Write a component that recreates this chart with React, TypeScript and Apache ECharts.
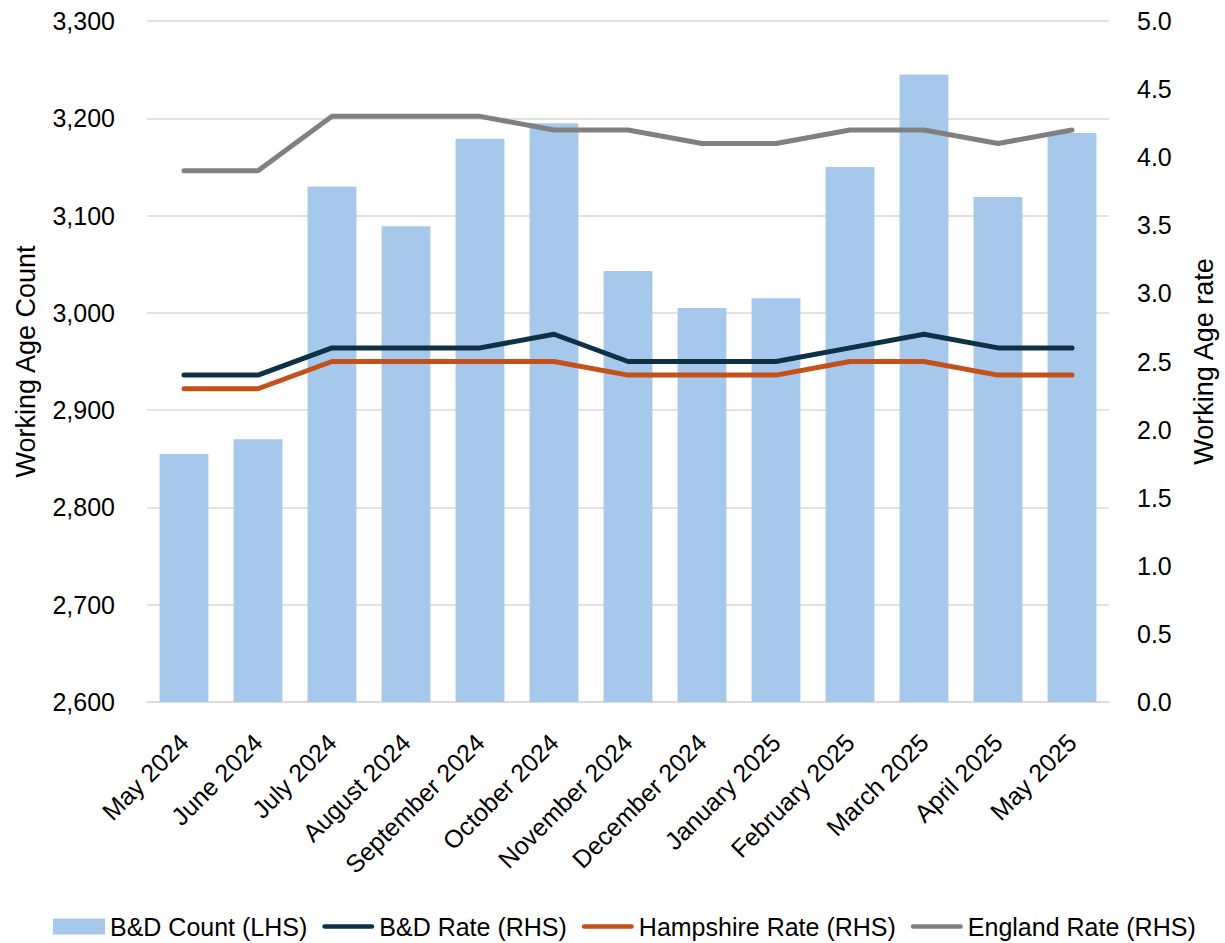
import React, { useEffect, useRef } from "react";
import * as echarts from "echarts";

const categories = [
  "May 2024", "June 2024", "July 2024", "August 2024", "September 2024", "October 2024",
  "November 2024", "December 2024", "January 2025", "February 2025", "March 2025", "April 2025", "May 2025",
];
const bdCount = [2855, 2870, 3130, 3089, 3179, 3195, 3043, 3005, 3015, 3150, 3245, 3119, 3185];
const bdRate = [2.4, 2.4, 2.6, 2.6, 2.6, 2.7, 2.5, 2.5, 2.5, 2.6, 2.7, 2.6, 2.6];
const hampshireRate = [2.3, 2.3, 2.5, 2.5, 2.5, 2.5, 2.4, 2.4, 2.4, 2.5, 2.5, 2.4, 2.4];
const englandRate = [3.9, 3.9, 4.3, 4.3, 4.3, 4.2, 4.2, 4.1, 4.1, 4.2, 4.2, 4.1, 4.2];

const FONT = "'Liberation Sans', Arial, sans-serif";
const TXT = "#000000";
const LINE_ICON = "path://M2.5,0 H52.5 A2.5,2.5 0 0 1 52.5,5 H2.5 A2.5,2.5 0 0 1 2.5,0 Z";

export default function App() {
  const ref = useRef<HTMLDivElement>(null);
  useEffect(() => {
    document.body.style.margin = "0";
    const chart = echarts.init(ref.current!, null, { renderer: "svg" });
    const lineSeries = (name: string, data: number[], color: string) => ({
      name,
      type: "line",
      yAxisIndex: 1,
      data,
      symbol: "none",
      lineStyle: { color, width: 5, cap: "round", join: "round" },
      itemStyle: { color },
      z: 3,
    });
    chart.setOption({
      animation: false,
      backgroundColor: "#ffffff",
      textStyle: { fontFamily: FONT },
      grid: { left: 147, right: 108, top: 21, bottom: 241, containLabel: false },
      legend: {
        bottom: -1,
        left: 48,
        itemWidth: 52,
        itemHeight: 16,
        itemGap: 15,
        textStyle: { fontSize: 25, color: TXT, fontFamily: FONT },
        data: [
          { name: "B&D Count (LHS)", icon: "rect" },
          { name: "B&D Rate (RHS)", icon: LINE_ICON },
          { name: "Hampshire Rate (RHS)", icon: LINE_ICON },
          { name: "England Rate (RHS)", icon: LINE_ICON },
        ],
      },
      xAxis: {
        type: "category",
        data: categories,
        axisLine: { show: true, lineStyle: { color: "#d9d9d9", width: 1.5 } },
        axisTick: { show: false },
        axisLabel: {
          rotate: 45,
          interval: 0,
          margin: 36,
          fontSize: 25,
          color: TXT,
          fontFamily: FONT,
        },
      },
      yAxis: [
        {
          type: "value",
          min: 2600,
          max: 3300,
          interval: 100,
          name: "Working Age Count",
          nameLocation: "middle",
          nameGap: 108,
          nameTextStyle: { fontSize: 27, color: TXT, fontFamily: FONT },
          axisLine: { show: false },
          axisTick: { show: false },
          axisLabel: {
            margin: 32,
            fontSize: 25,
            color: TXT,
            fontFamily: FONT,
            formatter: (v: number) => v.toLocaleString("en-US"),
          },
          splitLine: { show: true, lineStyle: { color: "#d9d9d9", width: 1.5 } },
        },
        {
          type: "value",
          min: 0,
          max: 5,
          interval: 0.5,
          name: "Working Age rate",
          nameLocation: "middle",
          nameGap: 81,
          nameTextStyle: { fontSize: 27, color: TXT, fontFamily: FONT },
          axisLine: { show: false },
          axisTick: { show: false },
          axisLabel: {
            margin: 28,
            fontSize: 25,
            color: TXT,
            fontFamily: FONT,
            formatter: (v: number) => v.toFixed(1),
          },
          splitLine: { show: false },
        },
      ],
      series: [
        {
          name: "B&D Count (LHS)",
          type: "bar",
          data: bdCount,
          barCategoryGap: "34%",
          itemStyle: { color: "#A6C9EB" },
          z: 2,
        },
        lineSeries("B&D Rate (RHS)", bdRate, "#0F3146"),
        lineSeries("Hampshire Rate (RHS)", hampshireRate, "#C4501A"),
        lineSeries("England Rate (RHS)", englandRate, "#808080"),
      ],
    });
    return () => chart.dispose();
  }, []);
  return <div ref={ref} style={{ width: 1225, height: 943 }} />;
}
